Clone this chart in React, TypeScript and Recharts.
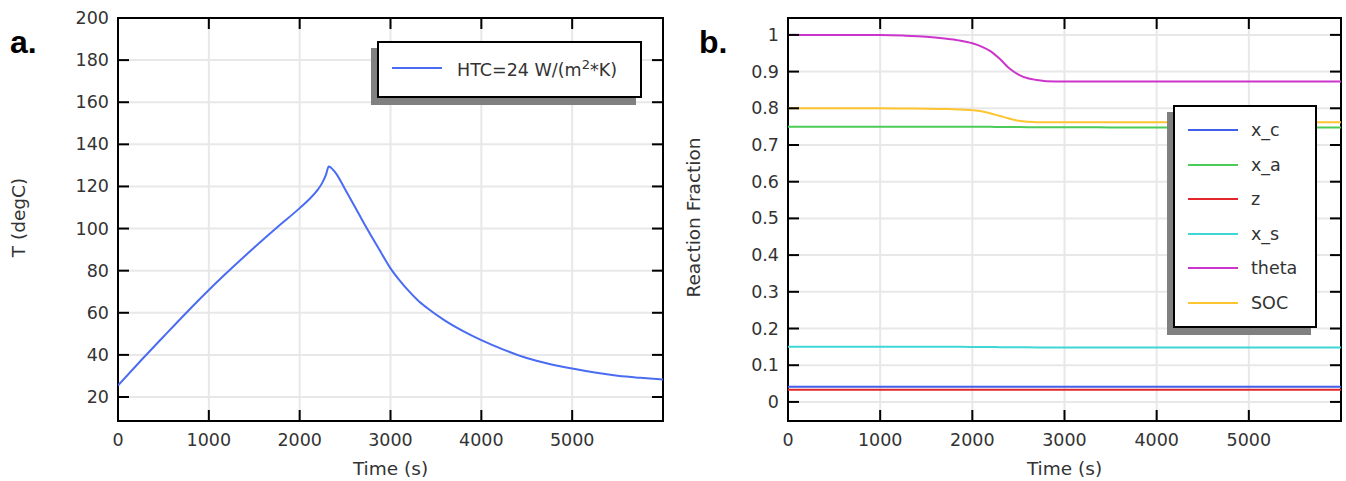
import { LineChart, Line, XAxis, YAxis, CartesianGrid, ReferenceArea } from 'recharts'

// panel a: temperature history
const timeA = [0, 250, 500, 750, 1000, 1250, 1500, 1750, 2000, 2100, 2200, 2250, 2290, 2320, 2345, 2400, 2500, 2600, 2700, 2800, 2900, 3000, 3100, 3200, 3300, 3400, 3600, 3800, 4000, 4250, 4500, 4750, 5000, 5250, 5500, 5750, 6000]
const tempA = [25.5, 37.2, 48.6, 59.9, 70.8, 81.1, 91, 100.5, 109.7, 113.7, 118.5, 121.8, 125.6, 129.5, 128.9, 126.2, 118.7, 111, 103.1, 95.6, 88.3, 81.1, 75.4, 70.4, 66, 62.4, 56.3, 51.3, 47, 42.4, 38.5, 35.7, 33.5, 31.6, 30.1, 29.1, 28.3]
const legendA = 'HTC=24 W/(m'
const xTicks = [0, 1000, 2000, 3000, 4000, 5000]
const yTicksA = [20, 40, 60, 80, 100, 120, 140, 160, 180, 200]

// panel b: reaction fractions
const timeB = [0, 500, 1000, 1250, 1500, 1700, 1850, 2000, 2100, 2200, 2300, 2400, 2500, 2600, 2700, 2800, 3000, 3500, 4000, 5000, 6000]
const xC = [0.041, 0.041, 0.041, 0.041, 0.041, 0.041, 0.041, 0.041, 0.041, 0.041, 0.041, 0.041, 0.041, 0.041, 0.041, 0.041, 0.041, 0.041, 0.041, 0.041, 0.041]
const xA = [0.75, 0.75, 0.75, 0.75, 0.75, 0.75, 0.75, 0.7498, 0.7496, 0.7494, 0.7492, 0.749, 0.7488, 0.7486, 0.7485, 0.7484, 0.7482, 0.748, 0.748, 0.748, 0.748]
const zVal = [0.033, 0.033, 0.033, 0.033, 0.033, 0.033, 0.033, 0.033, 0.033, 0.033, 0.033, 0.033, 0.033, 0.033, 0.033, 0.033, 0.033, 0.033, 0.033, 0.033, 0.033]
const xS = [0.15, 0.15, 0.15, 0.15, 0.15, 0.15, 0.15, 0.1498, 0.1496, 0.1494, 0.1492, 0.149, 0.1488, 0.1486, 0.1485, 0.1484, 0.1482, 0.148, 0.148, 0.148, 0.148]
const theta = [1, 1, 0.9995, 0.998, 0.995, 0.99, 0.985, 0.977, 0.968, 0.955, 0.934, 0.909, 0.892, 0.882, 0.877, 0.874, 0.873, 0.873, 0.873, 0.873, 0.873]
const soc = [0.8, 0.8, 0.8, 0.7995, 0.799, 0.798, 0.797, 0.795, 0.792, 0.786, 0.779, 0.772, 0.766, 0.763, 0.762, 0.762, 0.762, 0.762, 0.762, 0.762, 0.762]
const namesB = ['x_c', 'x_a', 'z', 'x_s', 'theta', 'SOC']
const colorsB = ['#3f5fea', '#4ccb57', '#e3262b', '#3fd6d6', '#cc35cc', '#ffc530']
const valuesB = [xC, xA, zVal, xS, theta, soc]
const yTicksB = [0, 0.1, 0.2, 0.3, 0.4, 0.5, 0.6, 0.7, 0.8, 0.9, 1]

const dataA = timeA.map((t, i) => ({ t, T: tempA[i] }))
const dataB = timeB.map((t, i) => {
  const row: Record<string, number> = { t }
  namesB.forEach((n, k) => { row[n] = valuesB[k][i] })
  return row
})

const FONT = '"DejaVu Sans", sans-serif'
const TICK = 11
const H = 481
const TOP = 18
const BOTTOM_AXIS = 60
const PLOT_H = H - TOP - BOTTOM_AXIS

const fmtB = (v: number) => String(Math.round(v * 10) / 10)

function makeYTick(plotW: number, fmt: (v: number) => string) {
  return (props: any) => {
    const { x, y, payload } = props
    return (
      <g>
        <line x1={x} y1={y} x2={x + TICK} y2={y} stroke="#000" strokeWidth={2} />
        <line x1={x + plotW - TICK} y1={y} x2={x + plotW} y2={y} stroke="#000" strokeWidth={2} />
        <text x={x - 9} y={y} textAnchor="end" dominantBaseline="central" fontFamily={FONT} fontSize={17.5} fill="#333">
          {fmt(payload.value)}
        </text>
      </g>
    )
  }
}

const XTick = (props: any) => {
  const { x, y, payload } = props
  return (
    <g>
      <line x1={x} y1={y} x2={x} y2={y - TICK} stroke="#000" strokeWidth={2} />
      <line x1={x} y1={y - PLOT_H} x2={x} y2={y - PLOT_H + TICK} stroke="#000" strokeWidth={2} />
      <text x={x} y={y + 19} textAnchor="middle" dominantBaseline="central" fontFamily={FONT} fontSize={17.5} fill="#333">
        {payload.value}
      </text>
    </g>
  )
}

const xTitle = (props: any) => {
  const { viewBox, value } = props
  return (
    <text x={viewBox.x + viewBox.width / 2} y={viewBox.y + 47} textAnchor="middle" dominantBaseline="central" fontFamily={FONT} fontSize={18.5} fill="#333">
      {value}
    </text>
  )
}

function makeYTitle(dx: number) {
  return (props: any) => {
    const { viewBox, value } = props
    const cx = viewBox.x + dx
    const cy = viewBox.y + viewBox.height / 2 - 2
    return (
      <text x={cx} y={cy} transform={`rotate(-90, ${cx}, ${cy})`} textAnchor="middle" dominantBaseline="central" fontFamily={FONT} fontSize={18.5} fill="#333">
        {value}
      </text>
    )
  }
}

const legendBox = (left: number, top: number, width: number, height: number): React.CSSProperties => ({
  position: 'absolute',
  left,
  top,
  width,
  height,
  boxSizing: 'border-box',
  border: '2px solid #000',
  background: '#fff',
  boxShadow: '-6px 7px 0 #808080',
  fontFamily: FONT,
  fontSize: 17.5,
  color: '#333',
})

export default function App() {
  const wA = 680
  const plotWA = wA - 118 - 17
  const wB = 666
  const plotWB = wB - 108 - 5
  return (
    <div style={{ position: 'absolute', left: 0, top: 0, width: 1346, height: H, background: '#fff' }}>
      <div style={{ position: 'absolute', left: 0, top: 0 }}>
        <LineChart width={wA} height={H} data={dataA} margin={{ top: TOP, right: 17, bottom: 0, left: 0 }}>
          <CartesianGrid stroke="#e8e8e8" strokeWidth={2} />
          <XAxis dataKey="t" type="number" domain={[0, 6000]} ticks={xTicks} height={BOTTOM_AXIS} axisLine={false} tickLine={false} tickSize={0} tickMargin={0} tick={XTick} label={{ value: 'Time (s)', content: xTitle }} allowDataOverflow />
          <YAxis type="number" domain={[8.6, 200]} ticks={yTicksA} width={118} axisLine={false} tickLine={false} tickSize={0} tickMargin={0} tick={makeYTick(plotWA, String)} label={{ value: 'T (degC)', content: makeYTitle(18) }} allowDataOverflow />
          <ReferenceArea x1={0} x2={6000} y1={8.6} y2={200} fill="none" stroke="#000" strokeWidth={2} />
          <Line type="monotone" dataKey="T" stroke="#4a6cf2" strokeWidth={2} dot={false} isAnimationActive={false} />
        </LineChart>
      </div>
      <div style={{ position: 'absolute', left: 680, top: 0 }}>
        <LineChart width={wB} height={H} data={dataB} margin={{ top: TOP, right: 5, bottom: 0, left: 0 }}>
          <CartesianGrid stroke="#e8e8e8" strokeWidth={2} />
          <XAxis dataKey="t" type="number" domain={[0, 6000]} ticks={xTicks} height={BOTTOM_AXIS} axisLine={false} tickLine={false} tickSize={0} tickMargin={0} tick={XTick} label={{ value: 'Time (s)', content: xTitle }} allowDataOverflow />
          <YAxis type="number" domain={[-0.052, 1.046]} ticks={yTicksB} width={108} axisLine={false} tickLine={false} tickSize={0} tickMargin={0} tick={makeYTick(plotWB, fmtB)} label={{ value: 'Reaction Fraction', content: makeYTitle(13) }} allowDataOverflow />
          <ReferenceArea x1={0} x2={6000} y1={-0.052} y2={1.046} fill="none" stroke="#000" strokeWidth={2} />
          {namesB.map((n, k) => (
            <Line key={n} type="monotone" dataKey={n} name={n} stroke={colorsB[k]} strokeWidth={2} dot={false} isAnimationActive={false} />
          ))}
        </LineChart>
      </div>

      <div style={{ position: 'absolute', left: 10, top: 22, fontFamily: '"Liberation Sans", Arial, sans-serif', fontWeight: 'bold', fontSize: 32, lineHeight: '40px' }}>a.</div>
      <div style={{ position: 'absolute', left: 699, top: 22, fontFamily: '"Liberation Sans", Arial, sans-serif', fontWeight: 'bold', fontSize: 32, lineHeight: '40px' }}>b.</div>

      <div style={legendBox(377, 41, 265, 57)}>
        <div style={{ position: 'absolute', left: 13, top: 24, width: 50, height: 2, background: '#4a6cf2' }} />
        <div style={{ position: 'absolute', left: 78, top: 16, whiteSpace: 'nowrap', lineHeight: '22px' }}>
          {legendA}<sup style={{ fontSize: 13, lineHeight: 0 }}>2</sup>*K)
        </div>
      </div>

      <div style={legendBox(1173, 105, 144, 223)}>
        {namesB.map((n, k) => (
          <div key={n}>
            <div style={{ position: 'absolute', left: 13, top: 22 + k * 34.5, width: 50, height: 2, background: colorsB[k] }} />
            <div style={{ position: 'absolute', left: 76, top: 12 + k * 34.5, lineHeight: '22px' }}>{n}</div>
          </div>
        ))}
      </div>
    </div>
  )
}
